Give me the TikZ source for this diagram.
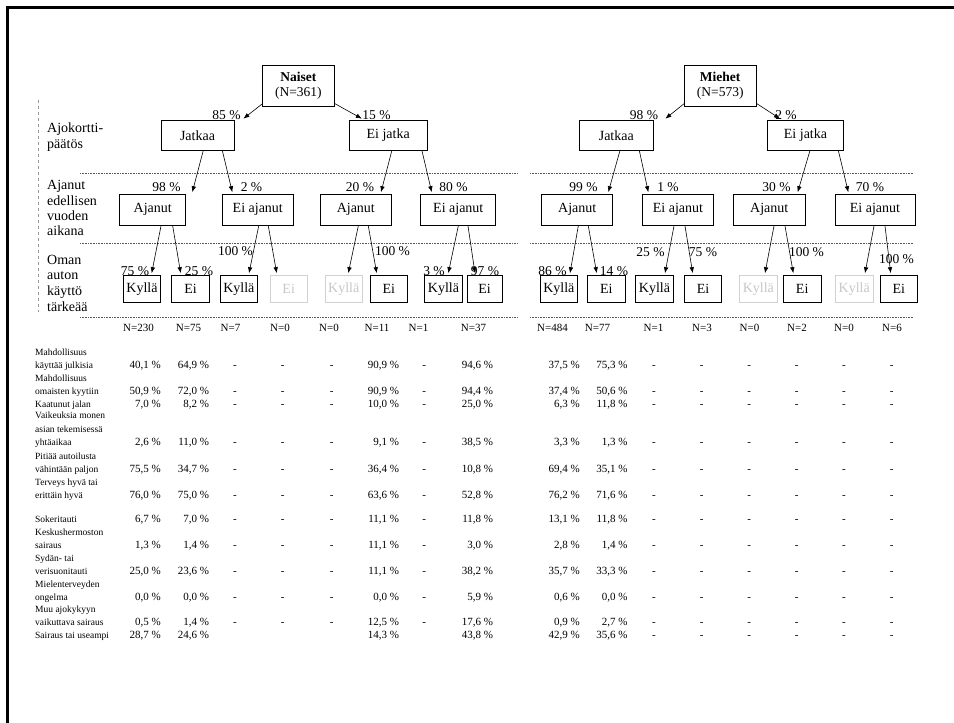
\documentclass[tikz,border=0pt]{standalone}
\usepackage{fontspec}
\setmainfont{Liberation Serif}
\usetikzlibrary{arrows.meta,calc}
\newcommand\stacklines[2]{\vbox{\baselineskip=#1\lineskiplimit=-100pt\lineskip=0pt #2}}
\begin{document}
\begin{tikzpicture}[x=1pt,y=-1pt,
  box/.style={draw, line width=0.75pt, inner sep=0pt, minimum width=37.5pt,
    font=\fontsize{14}{16}\selectfont},
  lvA/.style={box, minimum height=29.5pt},
  lvB/.style={box, minimum height=31.5pt},
  lvC/.style={box, minimum height=27.5pt, minimum width=37.5pt},
  faint/.style={draw=black!18, text=black!22},
  pct/.style={inner sep=0pt, font=\fontsize{13.5}{15}\selectfont},
  arr/.style={-{Latex[length=6pt,width=4.6pt]}, line width=0.6pt},
  dotline/.style={densely dotted, line width=0.6pt, black!65},
  hdr/.style={anchor=base west, inner sep=0pt, font=\fontsize{14}{15}\selectfont},
  nrow/.style={anchor=base, inner sep=0pt, font=\fontsize{11}{13}\selectfont},
  val/.style={anchor=base east, inner sep=0pt, font=\fontsize{11}{13}\selectfont},
  dsh/.style={anchor=base, inner sep=0pt, font=\fontsize{11}{13}\selectfont},
  lbl/.style={anchor=base west, inner sep=0pt, font=\fontsize{9.5}{12}\selectfont},
]
\useasboundingbox (0,0) rectangle (954,723);
\fill[white] (0,0) rectangle (954,723);
% frame
\draw[line width=3pt] (7.5,723) -- (7.5,7.5) -- (954,7.5);
\draw[black!40, dashed, line width=0.5pt] (38,100) -- (38,312);

% dotted separators
\foreach \yy in {173,243,317}{
  \draw[dotline] (80,\yy) -- (518,\yy);
  \draw[dotline] (530,\yy) -- (913,\yy);
}

% row headers
\node[hdr] (h1) at (47,148) {\stacklines{15.5pt}{\hbox{Ajokortti-}\hbox{päätös}}};
\node[hdr] (h2) at (47,235.5) {\stacklines{15.2pt}{\hbox{Ajanut}\hbox{edellisen}\hbox{vuoden}\hbox{aikana}}};
\node[hdr] (h3) at (47,311) {\stacklines{15.6pt}{\hbox{Oman}\hbox{auton}\hbox{käyttö}\hbox{tärkeää}}};

% ---------------- top boxes
\node[box, minimum width=71.3pt, minimum height=41pt, align=center,
  font=\fontsize{13.5}{15}\selectfont] (naiset) at (298.4,85.5) {\textbf{Naiset}\\(N=361)};
\node[box, minimum width=71.7pt, minimum height=41pt, align=center,
  font=\fontsize{13.5}{15}\selectfont] (miehet) at (720.2,85.5) {\textbf{Miehet}\\(N=573)};

% level 1
\node[lvA, minimum width=73pt] (jaN) at (197.5,135.3) {Jatkaa};
\node[lvA, minimum width=77.7pt] (ejN) at (388.2,135.3) {Ei jatka};
\node[lvA, minimum width=74pt] (jaM) at (616.3,135.3) {Jatkaa};
\node[lvA, minimum width=75.6pt] (ejM) at (805.5,135.3) {Ei jatka};

% level 2
\node[lvB, minimum width=66pt] (ajN1) at (152.8,209.8) {Ajanut};
\node[lvB, minimum width=71pt] (eaN1) at (257.8,209.8) {Ei ajanut};
\node[lvB, minimum width=71.7pt] (ajN2) at (355.8,209.8) {Ajanut};
\node[lvB, minimum width=75pt] (eaN2) at (458.3,209.8) {Ei ajanut};
\node[lvB, minimum width=71pt] (ajM1) at (577.2,209.8) {Ajanut};
\node[lvB, minimum width=70.6pt] (eaM1) at (678,209.8) {Ei ajanut};
\node[lvB, minimum width=71.7pt] (ajM2) at (769.2,209.8) {Ajanut};
\node[lvB, minimum width=80pt] (eaM2) at (875,209.8) {Ei ajanut};

% level 3
\node[lvC] (kN1) at (142,288.8) {Kyllä};
\node[lvC] (eN1) at (190.5,288.8) {Ei};
\node[lvC] (kN2) at (238.8,288.8) {Kyllä};
\node[lvC, faint] (eN2) at (288.7,288.8) {Ei};
\node[lvC, faint] (kN3) at (343.7,288.8) {Kyllä};
\node[lvC] (eN3) at (388.8,288.8) {Ei};
\node[lvC] (kN4) at (443.5,288.8) {Kyllä};
\node[lvC, minimum width=35pt] (eN4) at (484.5,288.8) {Ei};
\node[lvC] (kM1) at (558.8,288.8) {Kyllä};
\node[lvC] (eM1) at (606.3,288.8) {Ei};
\node[lvC] (kM2) at (654.5,288.8) {Kyllä};
\node[lvC] (eM2) at (703,288.8) {Ei};
\node[lvC, faint] (kM3) at (758.3,288.8) {Kyllä};
\node[lvC] (eM3) at (802.2,288.8) {Ei};
\node[lvC, faint] (kM4) at (854.2,288.8) {Kyllä};
\node[lvC] (eM4) at (898.8,288.8) {Ei};

% ---------------- connectors level 0 -> 1
\draw[arr] ([xshift=0.5pt,yshift=3pt]naiset.south west) -- ([xshift=9pt,yshift=1.5pt]jaN.north east);
\draw[arr] ([yshift=3pt]naiset.south east) -- ([xshift=-26.3pt,yshift=1.5pt]ejN.north);
\draw[arr] ([xshift=0.5pt,yshift=3pt]miehet.south west) -- ([xshift=11.7pt,yshift=1.5pt]jaM.north east);
\draw[arr] ([yshift=3pt]miehet.south east) -- ([xshift=-25.5pt,yshift=1.5pt]ejM.north);

% level 1 -> 2
\draw[arr] ([xshift=5.8pt]jaN.south) -- ([xshift=39.5pt,yshift=1.5pt]ajN1.north);
\draw[arr] ([xshift=24.8pt]jaN.south) -- ([xshift=-25.5pt,yshift=1.5pt]eaN1.north);
\draw[arr] ([xshift=3.7pt]ejN.south) -- ([xshift=25.2pt,yshift=1.5pt]ajN2.north);
\draw[arr] ([xshift=33.7pt]ejN.south) -- ([xshift=-26.6pt,yshift=1.5pt]eaN2.north);
\draw[arr] ([xshift=3.7pt]jaM.south) -- ([xshift=31.1pt,yshift=1.5pt]ajM1.north);
\draw[arr] ([xshift=23pt]jaM.south) -- ([xshift=-29.7pt,yshift=1.5pt]eaM1.north);
\draw[arr] ([xshift=4.5pt]ejM.south) -- ([xshift=28.5pt,yshift=1.5pt]ajM2.north);
\draw[arr] ([xshift=32.8pt]ejM.south) -- ([xshift=-26.7pt,yshift=1.5pt]eaM2.north);

% level 2 -> 3
\draw[arr] ([xshift=8.2pt]ajN1.south) -- ([xshift=9.7pt,yshift=1.5pt]kN1.north);
\draw[arr] ([xshift=19.9pt]ajN1.south) -- ([xshift=-9.8pt,yshift=1.5pt]eN1.north);
\draw[arr] ([xshift=0.9pt]eaN1.south) -- ([xshift=10.2pt,yshift=1.5pt]kN2.north);
\draw[arr] ([xshift=10.5pt]eaN1.south) -- ([xshift=-12pt,yshift=1.5pt]eN2.north);
\draw[arr] ([xshift=2.5pt]ajN2.south) -- ([xshift=4.6pt,yshift=1.5pt]kN3.north);
\draw[arr] ([xshift=12.5pt]ajN2.south) -- ([xshift=-12.1pt,yshift=1.5pt]eN3.north);
\draw[arr] ([xshift=0pt]eaN2.south) -- ([xshift=4.8pt,yshift=1.5pt]kN4.north);
\draw[arr] ([xshift=9.7pt]eaN2.south) -- ([xshift=-9.5pt,yshift=1.5pt]eN4.north);
\draw[arr] ([xshift=1.1pt]ajM1.south) -- ([xshift=11.2pt,yshift=1.5pt]kM1.north);
\draw[arr] ([xshift=11.1pt]ajM1.south) -- ([xshift=-9.6pt,yshift=1.5pt]eM1.north);
\draw[arr] ([xshift=-4pt]eaM1.south) -- ([xshift=10.5pt,yshift=1.5pt]kM2.north);
\draw[arr] ([xshift=7pt]eaM1.south) -- ([xshift=-10.3pt,yshift=1.5pt]eM2.north);
\draw[arr] ([xshift=4.8pt]ajM2.south) -- ([xshift=6.7pt,yshift=1.5pt]kM3.north);
\draw[arr] ([xshift=15.8pt]ajM2.south) -- ([xshift=-8.9pt,yshift=1.5pt]eM3.north);
\draw[arr] ([xshift=-1pt]eaM2.south) -- ([xshift=10.8pt,yshift=1.5pt]kM4.north);
\draw[arr] ([xshift=10pt]eaM2.south) -- ([xshift=-8.1pt,yshift=1.5pt]eM4.north);

% ---------------- percentage labels
\node[pct] (p1) at (226.5,115.5) {85 \%};
\node[pct] (p2) at (376.5,115.5) {15 \%};
\node[pct] (p3) at (644,115) {98 \%};
\node[pct] (p4) at (786,115) {2 \%};
\node[pct] (p5) at (166.5,186.7) {98 \%};
\node[pct] (p6) at (251.5,186.7) {2 \%};
\node[pct] (p7) at (360,186.7) {20 \%};
\node[pct] (p8) at (453.5,186.7) {80 \%};
\node[pct] (p9) at (583.5,186.7) {99 \%};
\node[pct] (p10) at (668,186.7) {1 \%};
\node[pct] (p11) at (776.5,186.7) {30 \%};
\node[pct] (p12) at (870,186.7) {70 \%};
\node[pct] (p13) at (135,271.5) {75 \%};
\node[pct] (p14) at (199,271.5) {25 \%};
\node[pct] (p15) at (235.5,251) {100 \%};
\node[pct] (p16) at (392.5,251) {100 \%};
\node[pct] (p17) at (434,271.5) {3 \%};
\node[pct] (p18) at (485,271.5) {97 \%};
\node[pct] (p19) at (552.5,271.5) {86 \%};
\node[pct] (p20) at (614,271.5) {14 \%};
\node[pct] (p21) at (650.5,252.5) {25 \%};
\node[pct] (p22) at (703,252.5) {75 \%};
\node[pct] (p23) at (806.5,252.5) {100 \%};
\node[pct] (p24) at (896.5,259.3) {100 \%};

% ---------------- N row
\foreach \xx/\tt [count=\i] in {138.5/230,188.5/75,230.5/7,280/0,329/0,377/11,418.5/1,473.5/37,
  552.5/484,597.5/77,653.5/1,702/3,749.5/0,797/2,844/0,892/6}
  \node[nrow] (n\i) at (\xx,331.5) {N=\tt};

% ---------------- row labels
\node[lbl] (l1) at (35,368) {\stacklines{12.6pt}{\hbox{Mahdollisuus}\hbox{käyttää julkisia}}};
\node[lbl] (l2) at (35,394.5) {\stacklines{12.6pt}{\hbox{Mahdollisuus}\hbox{omaisten kyytiin}}};
\node[lbl] (l3) at (35,407) {Kaatunut jalan};
\node[lbl] (l4) at (35,445.5) {\stacklines{13.5pt}{\hbox{Vaikeuksia monen}\hbox{asian tekemisessä}\hbox{yhtäaikaa}}};
\node[lbl] (l5) at (35,472) {\stacklines{12.8pt}{\hbox{Pitiää autoilusta}\hbox{vähintään paljon}}};
\node[lbl] (l6) at (35,498) {\stacklines{12.8pt}{\hbox{Terveys hyvä tai}\hbox{erittäin hyvä}}};
\node[lbl] (l7) at (35,522) {Sokeritauti};
\node[lbl] (l8) at (35,548) {\stacklines{12.8pt}{\hbox{Keskushermoston}\hbox{sairaus}}};
\node[lbl] (l9) at (35,574) {\stacklines{12.8pt}{\hbox{Sydän- tai}\hbox{verisuonitauti}}};
\node[lbl] (l10) at (35,600) {\stacklines{12.8pt}{\hbox{Mielenterveyden}\hbox{ongelma}}};
\node[lbl] (l11) at (35,625.5) {\stacklines{12.8pt}{\hbox{Muu ajokykyyn}\hbox{vaikuttava sairaus}}};
\node[lbl] (l12) at (35,638) {Sairaus tai useampi};

% ---------------- values, Naiset
\foreach \r/\yy/\va/\vb/\vc/\vd in {
  1/368/{40,1}/{64,9}/{90,9}/{94,6},
  2/394.5/{50,9}/{72,0}/{90,9}/{94,4},
  3/407/{7,0}/{8,2}/{10,0}/{25,0},
  4/445.5/{2,6}/{11,0}/{9,1}/{38,5},
  5/472/{75,5}/{34,7}/{36,4}/{10,8},
  6/498/{76,0}/{75,0}/{63,6}/{52,8},
  7/522/{6,7}/{7,0}/{11,1}/{11,8},
  8/548/{1,3}/{1,4}/{11,1}/{3,0},
  9/574/{25,0}/{23,6}/{11,1}/{38,2},
  10/600/{0,0}/{0,0}/{0,0}/{5,9},
  11/625.5/{0,5}/{1,4}/{12,5}/{17,6},
  12/638/{28,7}/{24,6}/{14,3}/{43,8}}{
  \node[val] (vN\r-1) at (161,\yy) {\va{} \%};
  \node[val] (vN\r-2) at (209.3,\yy) {\vb{} \%};
  \node[val] (vN\r-6) at (399.3,\yy) {\vc{} \%};
  \node[val] (vN\r-8) at (493.3,\yy) {\vd{} \%};
}
\foreach \yy [count=\r] in {368,394.5,407,445.5,472,498,522,548,574,600,625.5}
  \foreach \xx [count=\c] in {235,282.7,331.7,424.3}
    \node[dsh] (dN\r-\c) at (\xx,\yy) {-};

% ---------------- values, Miehet
\foreach \r/\yy/\va/\vb in {
  1/368/{37,5}/{75,3},
  2/394.5/{37,4}/{50,6},
  3/407/{6,3}/{11,8},
  4/445.5/{3,3}/{1,3},
  5/472/{69,4}/{35,1},
  6/498/{76,2}/{71,6},
  7/522/{13,1}/{11,8},
  8/548/{2,8}/{1,4},
  9/574/{35,7}/{33,3},
  10/600/{0,6}/{0,0},
  11/625.5/{0,9}/{2,7},
  12/638/{42,9}/{35,6}}{
  \node[val] (vM\r-1) at (580,\yy) {\va{} \%};
  \node[val] (vM\r-2) at (627.7,\yy) {\vb{} \%};
}
\foreach \yy [count=\r] in {368,394.5,407,445.5,472,498,522,548,574,600,625.5,638}
  \foreach \xx [count=\c] in {654,701.7,749.3,796.7,844,891.7}
    \node[dsh] (dM\r-\c) at (\xx,\yy) {-};
\end{tikzpicture}
\end{document}
